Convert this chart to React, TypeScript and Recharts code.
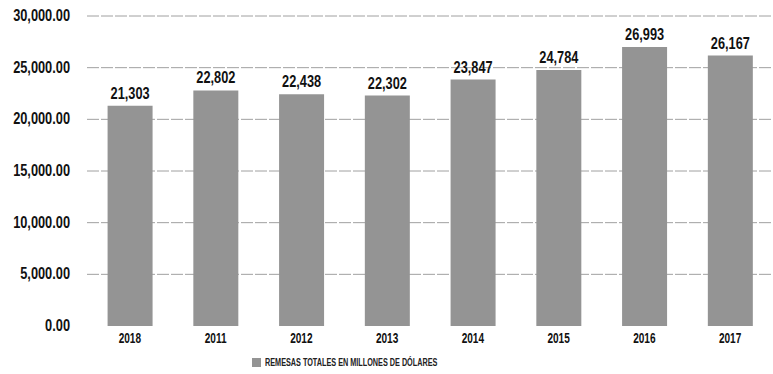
import { BarChart, Bar, XAxis, YAxis, CartesianGrid, Legend, LabelList } from 'recharts'

const years = ['2018', '2011', '2012', '2013', '2014', '2015', '2016', '2017']
const remesas = [21303, 22802, 22438, 22302, 23847, 24784, 26993, 26167]
const yTicks = [0, 5000, 10000, 15000, 20000, 25000, 30000]
const gridValues = [5000, 10000, 15000, 20000, 25000, 30000]
const seriesName = 'REMESAS TOTALES EN MILLONES DE DÓLARES'

const FONT = '"Liberation Sans", Arial, sans-serif'
const BAR_COLOR = '#949494'

const fmtAxis = (v: number) =>
  v.toLocaleString('en-US', { minimumFractionDigits: 2, maximumFractionDigits: 2 })

// condensed text, the scan uses a narrow typeface
function YTick({ x, y, payload }: any) {
  return (
    <g transform={`translate(${x},${y})`}>
      <text transform="scale(0.8,1)" textAnchor="end" dy={5} fontSize={16} fontWeight="bold" fontFamily={FONT} fill="#111">
        {fmtAxis(payload.value)}
      </text>
    </g>
  )
}

function XTick({ x, y, payload }: any) {
  return (
    <g transform={`translate(${x},${y})`}>
      <text transform="scale(0.72,1)" textAnchor="middle" dy={11} fontSize={14} fontWeight="bold" fontFamily={FONT} fill="#111">
        {payload.value}
      </text>
    </g>
  )
}

function ValueLabel({ x, y, width, value }: any) {
  return (
    <g transform={`translate(${x + width / 2},${y - 7})`}>
      <text transform="scale(0.75,1)" textAnchor="middle" fontSize={17} fontWeight="bold" fontFamily={FONT} fill="#111">
        {Number(value).toLocaleString('en-US')}
      </text>
    </g>
  )
}

function LegendContent() {
  return (
    <div style={{ display: 'flex', alignItems: 'center', fontFamily: FONT, fontSize: 11, color: '#222', fontWeight: 'bold', whiteSpace: 'nowrap' }}>
      <span style={{ display: 'inline-block', width: 9, height: 9, background: BAR_COLOR, marginRight: 4 }} />
      <span style={{ display: 'inline-block', transform: 'scaleX(0.66)', transformOrigin: 'left center' }}>{seriesName}</span>
    </div>
  )
}

export default function App() {
  const data = years.map((y, i) => ({ year: y, value: remesas[i] }))
  return (
    <div style={{ position: 'absolute', left: 0, top: 0, width: 773, height: 374, background: '#fff' }}>
      <BarChart
        width={773}
        height={374}
        data={data}
        margin={{ top: 16, right: 0, left: 0, bottom: 14 }}
        barCategoryGap="24%"
      >
        <CartesianGrid
          vertical={false}
          horizontalValues={gridValues}
          stroke="#a0a0a0"
          strokeDasharray="12 2"
          strokeWidth={1}
        />
        <XAxis
          dataKey="year"
          axisLine={false}
          tickLine={false}
          tickMargin={0}
          height={22}
          tick={<XTick />}
        />
        <YAxis
          width={87}
          domain={[0, 30000]}
          ticks={yTicks}
          axisLine={false}
          tickLine={false}
          tickMargin={11}
          tick={<YTick />}
        />
        <Legend
          verticalAlign="bottom"
          align="left"
          wrapperStyle={{ left: 252, bottom: 6, width: 300 }}
          content={<LegendContent />}
        />
        <Bar dataKey="value" name={seriesName} fill={BAR_COLOR} isAnimationActive={false}>
          <LabelList dataKey="value" content={<ValueLabel />} />
        </Bar>
      </BarChart>
    </div>
  )
}
